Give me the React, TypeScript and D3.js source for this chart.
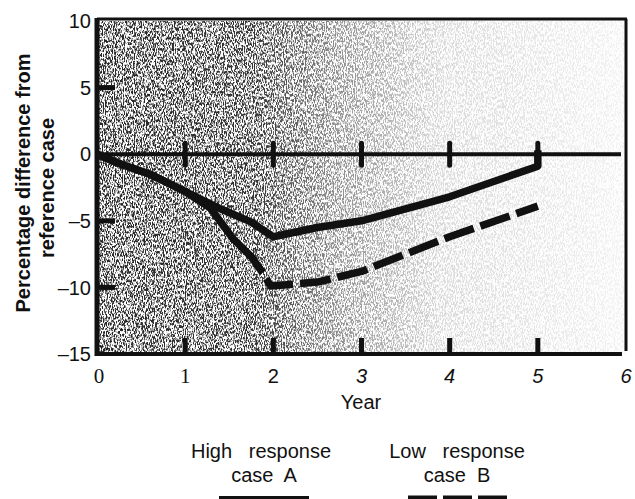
import React, { useEffect } from "react";
import * as d3 from "d3";

const xTickValues = [0, 1, 2, 3, 4, 5, 6];
const xTickLabels = ["0", "1", "2", "3", "4", "5", "6"];
const yTickValues = [10, 5, 0, -5, -10, -15];
const yTickLabels = ["10", "5", "0", "\u20135", "\u201310", "\u201315"];
const innerTickYears = [1, 2, 3, 4, 5];
const leftTickValues = [5, -5, -10];

const highYears = [0, 0.25, 0.6, 1, 1.4, 1.75, 2, 2.5, 3, 4, 5, 5];
const highValues = [0, -0.7, -1.5, -2.8, -4.1, -5.1, -6.2, -5.5, -5.0, -3.2, -0.9, 0.3];

const lowYears = [0, 0.25, 0.6, 1, 1.28, 1.55, 1.75, 1.88, 1.97, 2.5, 3, 4, 5];
const lowValues = [0, -0.7, -1.5, -2.8, -4.0, -6.4, -7.7, -8.9, -9.9, -9.6, -8.8, -6.2, -3.9];
const lowSolidUntilIndex = 7;

const W = 635;
const H = 499;
const SANS = "'Liberation Sans', Arial, Helvetica, sans-serif";
const SERIF = "'Liberation Serif', 'Times New Roman', serif";

export default function App() {
  useEffect(() => {
    document.body.style.margin = "0";
  }, []);

  const x = d3.scaleLinear().domain([0, 6]).range([97, 626]);
  const y = d3.scaleLinear().domain([-15, 10]).range([354, 21]);

  const highPts: [number, number][] = highYears.map((yr, i) => [yr, highValues[i]]);
  const lowPts: [number, number][] = lowYears.map((yr, i) => [yr, lowValues[i]]);
  const line = d3
    .line<[number, number]>()
    .x((d) => x(d[0]))
    .y((d) => y(d[1]));

  let solidLen = 0;
  for (let i = 1; i <= lowSolidUntilIndex; i++) {
    const dx = x(lowPts[i][0]) - x(lowPts[i - 1][0]);
    const dy = y(lowPts[i][1]) - y(lowPts[i - 1][1]);
    solidLen += Math.sqrt(dx * dx + dy * dy);
  }
  const pattern: string[] = [solidLen.toFixed(1)];
  for (let k = 0; k < 20; k++) pattern.push("7", "31");
  const lowDash = pattern.join(" ");

  const x0 = x(0);
  const y0 = y(0);

  return (
    <svg width={W} height={H} style={{ display: "block", background: "#fff" }}>
      <defs>
        <linearGradient id="fade" x1="0" x2="1" y1="0" y2="0">
          <stop offset="0" stopColor="#000" stopOpacity="0.85" />
          <stop offset="0.3" stopColor="#000" stopOpacity="0.8" />
          <stop offset="0.45" stopColor="#000" stopOpacity="0.45" />
          <stop offset="0.65" stopColor="#000" stopOpacity="0.15" />
          <stop offset="1" stopColor="#000" stopOpacity="0.05" />
        </linearGradient>
        <filter id="grain" x="0" y="0" width="1" height="1">
          <feTurbulence type="fractalNoise" baseFrequency="1.1 0.35" numOctaves="3" seed="11" result="t" />
          <feColorMatrix
            in="t"
            type="matrix"
            values="0 0 0 0 0  0 0 0 0 0  0 0 0 0 0  5 0 0 0 -2.1"
            result="n"
          />
          <feComposite in="n" in2="SourceGraphic" operator="in" />
        </filter>
      </defs>

      <rect
        x={x0}
        y={y(10)}
        width={x(6) - x0}
        height={y(-15) - y(10)}
        fill="url(#fade)"
        filter="url(#grain)"
      />

      {/* frame */}
      <line x1={x0} x2={x(6) + 1} y1={y(10) - 2} y2={y(10) - 2} stroke="#111" strokeWidth={3} />
      <line x1={x(6)} x2={x(6)} y1={y(10) - 2} y2={y(-15) - 3} stroke="#111" strokeWidth={3} />
      <line x1={x0} x2={x(6) - 4} y1={y(-15)} y2={y(-15)} stroke="#111" strokeWidth={4} />
      <line x1={x0} x2={x0} y1={y(10) - 3} y2={y(-15) + 2} stroke="#111" strokeWidth={5} />

      <line x1={x0} x2={x(6) - 5} y1={y0} y2={y0} stroke="#111" strokeWidth={4} />

      {innerTickYears.map((t) => (
        <g key={"t" + t}>
          <line x1={x(t)} x2={x(t)} y1={y0 - 11} y2={y0 + 11} stroke="#111" strokeWidth={5} strokeLinecap="round" />
          <line x1={x(t)} x2={x(t)} y1={y(-15)} y2={y(-15) - 16} stroke="#111" strokeWidth={5} />
        </g>
      ))}
      {leftTickValues.map((v) => (
        <line key={"l" + v} x1={x0} x2={x0 + 18} y1={y(v)} y2={y(v)} stroke="#111" strokeWidth={5} />
      ))}

      <path
        d={line(highPts) || ""}
        fill="none"
        stroke="#111"
        strokeWidth={7.5}
        strokeLinejoin="round"
      />
      <path
        d={line(lowPts) || ""}
        fill="none"
        stroke="#111"
        strokeWidth={7.5}
        strokeLinejoin="round"
        strokeDasharray={lowDash}
      />

      {yTickValues.map((v, i) => (
        <text
          key={"yl" + v}
          x={91}
          y={y(v)}
          dy="0.36em"
          textAnchor="end"
          fontFamily={SANS}
          fontSize={20}
          fill="#111"
        >
          {yTickLabels[i]}
        </text>
      ))}

      {xTickValues.map((v, i) => (
        <text
          key={"xl" + v}
          x={x(v) + (i === 0 ? 2 : 0)}
          y={383}
          textAnchor="middle"
          fontFamily={i <= 1 ? SERIF : SANS}
          fontStyle={i >= 3 ? "italic" : "normal"}
          fontSize={i <= 1 ? 21 : 20}
          fill="#111"
        >
          {xTickLabels[i]}
        </text>
      ))}

      <text x={361} y={409} textAnchor="middle" fontFamily={SANS} fontSize={20} fill="#111">
        Year
      </text>

      <g transform="translate(30,183) rotate(-90)">
        <text x={0} y={0} textAnchor="middle" fontFamily={SANS} fontWeight="bold" fontSize={20} fill="#111">
          Percentage difference from
        </text>
      </g>
      <g transform="translate(54,188) rotate(-90)">
        <text x={0} y={0} textAnchor="middle" fontFamily={SANS} fontWeight="bold" fontSize={20} fill="#111">
          reference case
        </text>
      </g>

      <text x={261} y={458} textAnchor="middle" fontFamily={SANS} fontSize={20} fill="#111" style={{ whiteSpace: "pre" }}>
        {"High   response"}
      </text>
      <text x={264} y={482} textAnchor="middle" fontFamily={SANS} fontSize={20} fill="#111" style={{ whiteSpace: "pre" }}>
        {"case  A"}
      </text>
      <line x1={219} x2={309} y1={498} y2={498} stroke="#111" strokeWidth={4} />

      <text x={457} y={458} textAnchor="middle" fontFamily={SANS} fontSize={20} fill="#111" style={{ whiteSpace: "pre" }}>
        {"Low   response"}
      </text>
      <text x={457} y={482} textAnchor="middle" fontFamily={SANS} fontSize={20} fill="#111" style={{ whiteSpace: "pre" }}>
        {"case  B"}
      </text>
      <line x1={408} x2={507} y1={498} y2={498} stroke="#111" strokeWidth={5} strokeDasharray="29 6" />
    </svg>
  );
}
